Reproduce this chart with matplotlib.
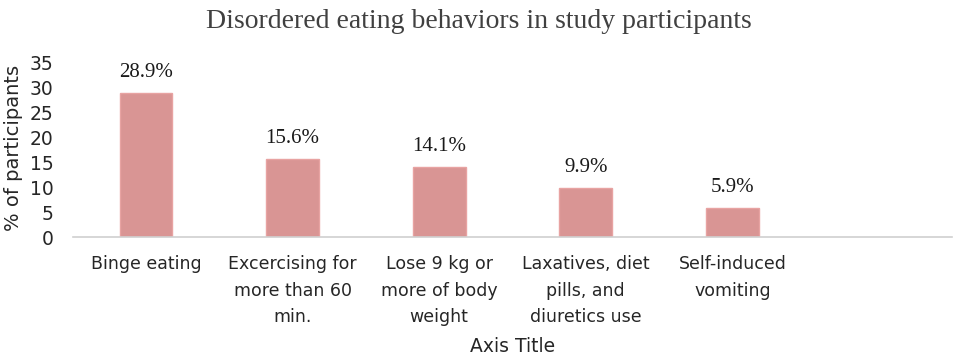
import numpy as np
from matplotlib import pyplot as plt

# chart data
categories = ["Binge eating", "Excercising for\nmore than 60\nmin.", "Lose 9 kg or\nmore of body\nweight",
              "Laxatives, diet\npills, and\ndiuretics use", "Self-induced\nvomiting", ""]
values = [28.9, 15.6, 14.1, 9.9, 5.9, 0]
labels = ["28.9%", "15.6%", "14.1%", "9.9%", "5.9%", ""]
yticks = [0, 5, 10, 15, 20, 25, 30, 35]

sans = ['Liberation Sans Narrow', 'DejaVu Sans']
serif = ['Liberation Serif', 'DejaVu Serif']

fig = plt.figure(figsize=(9.57, 3.61), dpi=100)
ax = fig.add_axes([0.076, 0.343, 0.919, 0.485])

x = np.arange(len(categories))
ax.bar(x[:5], values[:5], width=0.36, color='#d99594', edgecolor='#e8a3a2', linewidth=1)

for xi, v, lab in zip(x, values, labels):
    if lab:
        ax.text(xi, v + 2.2, lab, ha='center', va='bottom', fontsize=15, family=serif, color='#1a1a1a')

ax.set_xlim(-0.5, len(categories) - 0.5)
ax.set_ylim(0, 35)
ax.set_yticks(yticks)
ax.set_xticks(x)
ax.set_xticklabels(categories, family=sans, fontsize=12.5, color='#262626', linespacing=1.6)
for t in ax.get_yticklabels():
    t.set_family(sans)
    t.set_fontsize(13.5)
    t.set_color('#262626')
ax.tick_params(axis='y', length=0, pad=14)
ax.tick_params(axis='x', length=0, pad=13)

for s in ['top', 'right', 'left']:
    ax.spines[s].set_visible(False)
ax.spines['bottom'].set_color('#d0d0d0')
ax.spines['bottom'].set_linewidth(1.2)

# y label placed by hand so it sits at the left edge like the original
fig.text(0.014, 0.59, "% of participants", rotation=90, ha='center', va='center',
         family=sans, fontsize=14, color='#262626')
ax.set_xlabel("Axis Title", family=sans, fontsize=13.5, color='#262626', labelpad=8)
fig.text(0.5, 0.975, "Disordered eating behaviors in study participants", ha='center', va='top',
         family=serif, fontsize=20, color='#404040')

fig.savefig("out.png", dpi=100)
